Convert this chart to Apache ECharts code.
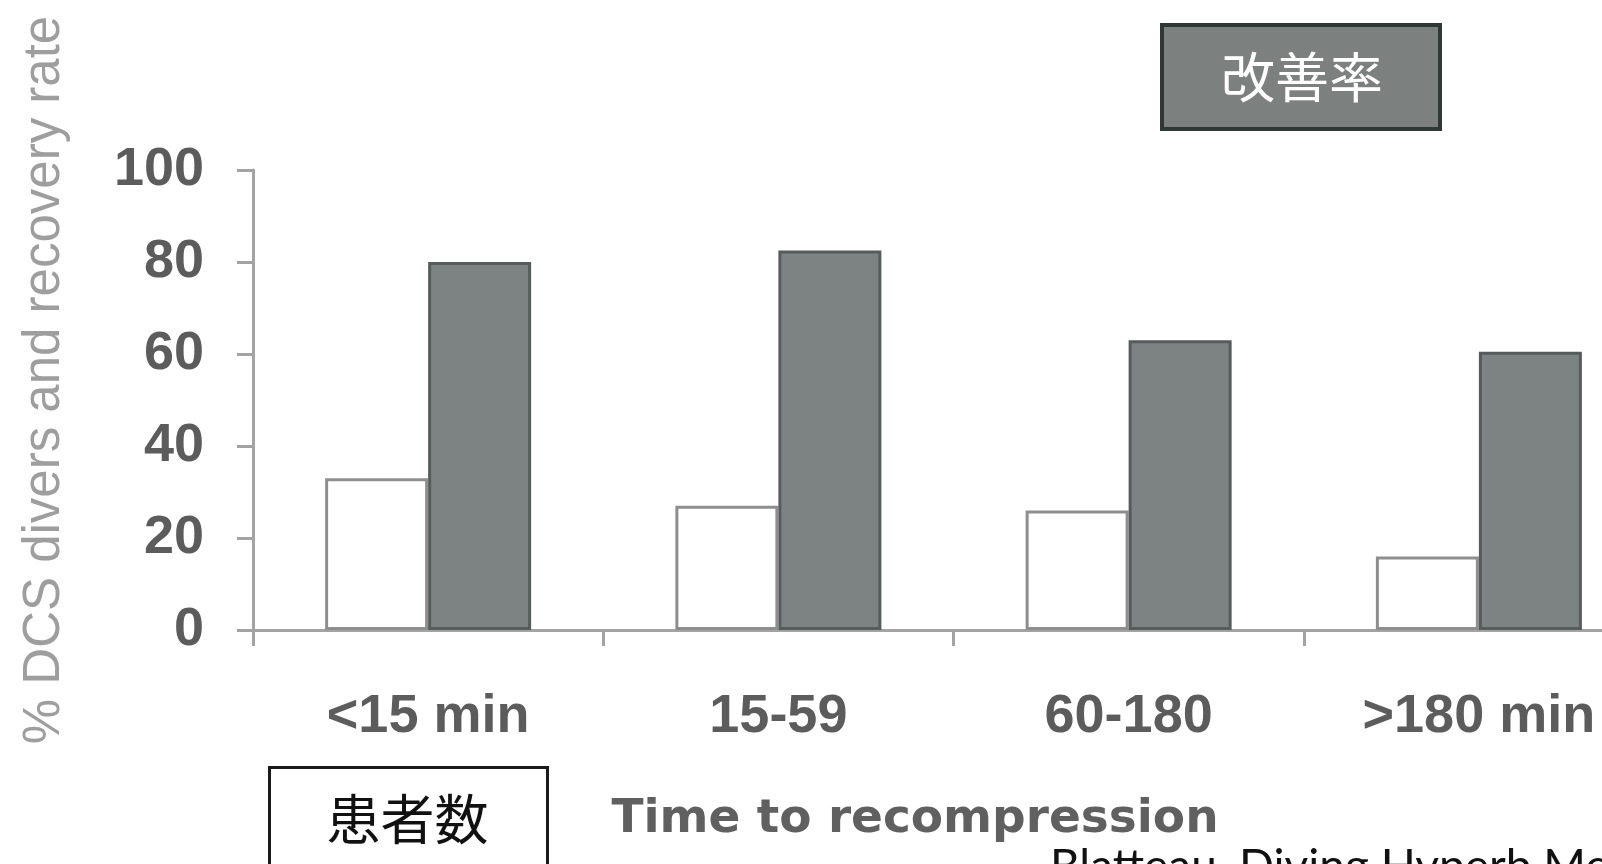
<!DOCTYPE html>
<html>
<head>
<meta charset="utf-8">
<script src="https://cdn.jsdelivr.net/npm/echarts@6/dist/echarts.min.js"></script>
<style>
html,body{margin:0;padding:0;background:#ffffff;}
#chart{width:1602px;height:864px;}
</style>
</head>
<body>
<div id="chart"></div>
<script>
const categories = ['<15 min', '15-59', '60-180', '>180 min'];
const patientPct = [33, 27, 26, 16];      // 患者数 (% DCS divers)
const recoveryRate = [80, 82.5, 63, 60.5]; // 改善率
const yTicks = [0, 20, 40, 60, 80, 100];
const yAxisName = '% DCS divers and recovery rate';
const xAxisName = 'Time to recompression';
const legendRecovery = '改善率';
const legendPatients = '患者数';
const citation = 'Blatteau, Diving Hyperb Med';

const chart = echarts.init(document.getElementById('chart'), null, {renderer: 'canvas'});
const axisGrey = '#a3a3a3';
const labelStyle = {
  fontFamily: 'Liberation Sans, Arial, sans-serif',
  fontWeight: 'bold',
  fontSize: 54,
  color: '#5c5c5c'
};

chart.setOption({
  backgroundColor: '#ffffff',
  animation: false,
  grid: {left: 253, width: 1401, top: 170, height: 460, containLabel: false, outerBoundsMode: 'none'},
  xAxis: {
    type: 'category',
    data: categories,
    name: xAxisName,
    nameLocation: 'middle',
    nameGap: 166,
    nameTextStyle: {
      fontFamily: 'DejaVu Sans, sans-serif',
      fontWeight: 'bold',
      fontSize: 47,
      color: '#606060',
      padding: [0, 77, 0, 0]
    },
    axisLine: {show: true, lineStyle: {color: axisGrey, width: 3}},
    axisTick: {show: true, length: 16, lineStyle: {color: axisGrey, width: 3}},
    axisLabel: Object.assign({margin: 60}, labelStyle)
  },
  yAxis: {
    type: 'value',
    min: yTicks[0],
    max: yTicks[yTicks.length - 1],
    interval: yTicks[1] - yTicks[0],
    name: yAxisName,
    nameLocation: 'middle',
    nameRotate: 90,
    nameGap: 183,
    nameTextStyle: {
      fontFamily: 'Liberation Sans, Arial, sans-serif',
      fontSize: 51,
      color: '#9e9e9e',
      padding: [0, 0, 0, 40]
    },
    axisLine: {show: true, lineStyle: {color: axisGrey, width: 3}},
    axisTick: {show: true, length: 16, lineStyle: {color: axisGrey, width: 3}},
    splitLine: {show: false},
    axisLabel: Object.assign({margin: 49}, labelStyle)
  },
  series: [
    {
      name: legendPatients,
      type: 'bar',
      data: patientPct,
      barWidth: 103,
      barGap: '0%',
      itemStyle: {color: '#ffffff', borderColor: '#8e8e8e', borderWidth: 3}
    },
    {
      name: legendRecovery,
      type: 'bar',
      data: recoveryRate,
      barWidth: 103,
      barGap: '0%',
      itemStyle: {color: '#7d8382', borderColor: '#565c5b', borderWidth: 3}
    }
  ],
  graphic: [
    {
      type: 'group', left: 1160, top: 23,
      children: [
        {type: 'rect', shape: {x: 0, y: 0, width: 278, height: 104},
         style: {fill: '#7c807f', stroke: '#303835', lineWidth: 4}},
        {type: 'text', x: 140, y: 52,
         style: {text: legendRecovery, fill: '#ffffff', font: '54px "Noto Sans CJK JP"',
                 align: 'center', verticalAlign: 'middle'}}
      ]
    },
    {
      type: 'group', left: 268, top: 766,
      children: [
        {type: 'rect', shape: {x: 0, y: 0, width: 278, height: 110},
         style: {fill: '#ffffff', stroke: '#1a1a1a', lineWidth: 3}},
        {type: 'text', x: 138, y: 52,
         style: {text: legendPatients, fill: '#111111', font: '54px "Noto Sans CJK JP"',
                 align: 'center', verticalAlign: 'middle'}}
      ]
    },
    {
      type: 'text', left: 1050, top: 844,
      style: {text: citation, fill: '#111111', font: '46px Lato, "Open Sans", sans-serif'}
    }
  ]
});
</script>
</body>
</html>
